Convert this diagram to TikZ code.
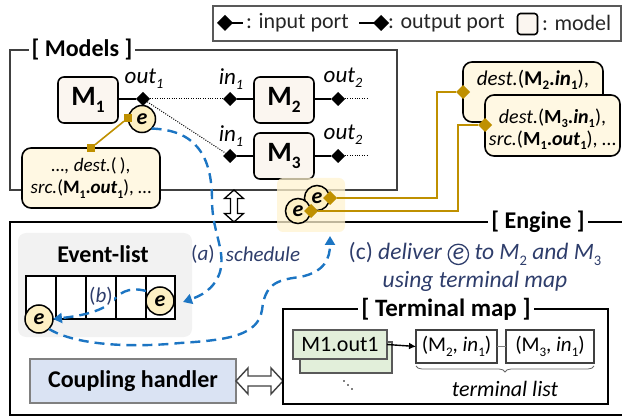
\documentclass[tikz,border=0pt]{standalone}
\usepackage{fontspec}
\setmainfont{Carlito}
\usetikzlibrary{shapes.geometric,decorations.pathreplacing,arrows.meta,calc}
\definecolor{modelfill}{HTML}{FBF6F0}
\definecolor{eyel}{HTML}{FDF0C4}
\definecolor{infofill}{HTML}{FFF8E3}
\definecolor{gold}{HTML}{BF9000}
\definecolor{hl}{HTML}{FFF3D0}
\definecolor{dblue}{HTML}{1C75C3}
\definecolor{navy}{HTML}{2E3D6B}
\definecolor{evbg}{HTML}{F2F2F2}
\definecolor{chfill}{HTML}{DAE3F3}
\definecolor{chdraw}{HTML}{808080}
\definecolor{tmfill}{HTML}{E2EFDA}
\definecolor{legd}{HTML}{595959}
\definecolor{frm}{HTML}{404040}
\newcommand\fsz[1]{\fontsize{#1}{#1}\selectfont}
\newcommand\sbs[1]{\raisebox{-0.22em}{\scalebox{0.62}{#1}}}
\begin{document}
\begin{tikzpicture}[x=1pt,y=-1pt,
  every node/.style={inner sep=0pt, outer sep=0pt},
  model/.style={draw, line width=1.6pt, rounded corners=6pt, fill=modelfill, minimum width=60pt, minimum height=46pt, font=\bfseries\fsz{28}},
  port/.style={diamond, fill=black, minimum size=14pt, inner sep=0pt},
  gport/.style={diamond, fill=gold, minimum size=14pt, inner sep=0pt},
  gsq/.style={rectangle, fill=gold, minimum size=8pt, inner sep=0pt},
  plbl/.style={font=\itshape\fsz{23}},
  ecirc/.style={circle, draw, line width=1.5pt, fill=eyel, inner sep=0pt, minimum size=27pt, font=\bfseries\itshape\fsz{22}},
  frlbl/.style={fill=white, inner sep=3pt, font=\bfseries\fsz{24}},
  infobox/.style={draw, line width=1.6pt, rounded corners=9pt, fill=infofill},
  itxt/.style={font=\fsz{19}, align=center},
  bdash/.style={draw=dblue, line width=2.4pt, dash pattern=on 10pt off 6pt, -{Triangle[length=9pt,width=10pt]}},
  goldln/.style={draw=gold, line width=1.6pt},
  cell/.style={draw, line width=1.3pt, fill=white, minimum width=30pt, minimum height=43pt},
  navytxt/.style={text=navy, font=\fsz{21}, align=center},
  tbox/.style={draw=frm, line width=1.5pt, fill=white, minimum height=33pt, font=\fsz{21}},
  gbox/.style={draw=legd, line width=1.5pt, fill=tmfill},
]
\useasboundingbox (0,0) rectangle (622,417);

% legend
\node[draw=legd, line width=1.8pt, minimum width=408pt, minimum height=35pt] (leg) at (417,23.5) {};
\node[port, minimum size=16pt] (lgd1) at (225,23) {};
\coordinate (lgl1) at (243,23);
\draw[line width=1.6pt] (lgd1.center) -- (lgl1);
\node[anchor=west, font=\fsz{22}, text=black!85] (lgt1) at (246,23) {: input port};
\coordinate (lgl2) at (359,23);
\node[port, minimum size=16pt] (lgd2) at (381,23) {};
\draw[line width=1.6pt] (lgl2) -- (lgd2.center);
\node[anchor=west, font=\fsz{22}, text=black!85] (lgt2) at (388,23) {: output port};
\node[draw, line width=1.6pt, rounded corners=3pt, fill=modelfill, minimum width=20pt, minimum height=21pt] (lgm) at (527.5,24) {};
\node[anchor=west, font=\fsz{22}, text=black!85] (lgt3) at (542,23) {: model};

% Models frame
\draw[draw=frm, line width=1.6pt] (10,50) rectangle (397,190);
\node[frlbl] (mlbl) at (82,50) {[ Models ]};

% Engine frame
\draw[line width=1.6pt] (630,222) -- (10,222) -- (10,415) -- (630,415);
\node[frlbl] (elbl) at (538,222) {[ Engine ]};

% models
\node[model] (m1) at (88,100) {M\sbs{1}};
\node[model] (m2) at (284,100) {M\sbs{2}};
\node[model] (m3) at (284,156) {M\sbs{3}};
\node[port] (o1) at (143,99) {};
\node[port] (i2) at (230,99) {};
\node[port] (i3) at (230,156) {};
\node[port] (o2) at (338,99) {};
\node[port] (o3) at (338,156) {};
\coordinate (o2e) at (367,99);
\coordinate (o3e) at (367,156);
\draw[line width=1.5pt] (m1.east |- o1) -- (o1);
\draw[line width=1.5pt] (i2) -- (m2.west |- i2);
\draw[line width=1.5pt] (i3) -- (m3.west |- i3);
\draw[line width=1.5pt] (m2.east |- o2) -- (o2);
\draw[line width=1.5pt] (m3.east |- o3) -- (o3);
\draw[line width=1pt, dash pattern=on 1pt off 1.4pt] (o1) -- (i2);
\draw[line width=1pt, dash pattern=on 1pt off 1.4pt] (o1) -- (i3);
\draw[line width=1pt, dash pattern=on 1pt off 1.4pt] (o2) -- (o2e);
\draw[line width=1pt, dash pattern=on 1pt off 1.4pt] (o3) -- (o3e);
\node[plbl] (lo1) at (144,79) {out\sbs{1}};
\node[plbl] (li2) at (231,79) {in\sbs{1}};
\node[plbl] (lo2) at (343,78) {out\sbs{2}};
\node[plbl] (li3) at (231,136) {in\sbs{1}};
\node[plbl] (lo3) at (343,135) {out\sbs{2}};

% info box near M1
\node[infobox, minimum width=138pt, minimum height=60pt] (info) at (91,178) {};
\node[itxt] (infot) at (91,178) {\textit{\dots, dest.}(\,),\\[3pt]\textit{src.}(\textbf{M\sbs{1}.\textit{out}\sbs{1}}), \dots};
\node[ecirc] (e1) at (142,119) {e};
\node[gsq] (sq1) at (128,118) {};
\node[gsq] (sq2) at (91,148) {};
\draw[goldln] (sq1) -- (sq2);

% highlight with two events
\fill[hl, fill opacity=0.75, rounded corners=6pt] (277,178) rectangle (345,232);
\node[ecirc, minimum size=25pt] (ea) at (317,198) {e};
\node[ecirc, minimum size=25pt] (eb) at (298,211) {e};
\node[gport] (ga) at (330,198) {};
\node[gport] (gb) at (311,211) {};

% right boxes
\node[infobox, minimum width=140pt, minimum height=60pt] (rb1) at (533,92) {};
\node[itxt, font=\fsz{21}] (rb1t) at (533,80) {\textit{dest.}(\textbf{M\sbs{2}.\textit{in}\sbs{1}}),};
\node[infobox, minimum width=135pt, minimum height=61pt] (rb2) at (552.5,125.5) {};
\node[itxt, font=\fsz{20}] (rb2t) at (552.5,129) {\textit{dest.}(\textbf{M\sbs{3}.\textit{in}\sbs{1}}),\\[2pt]\textit{src.}(\textbf{M\sbs{1}.\textit{out}\sbs{1}}), \dots};
\node[gport] (gd1) at (463,92) {};
\node[gport] (gd2) at (485,125) {};
\draw[goldln] (ga) -- (437,198) -- (437,92) -- (gd1);
\draw[goldln] (gb) -- (458,211) -- (458,125) -- (gd2);

% vertical double arrow
\draw[line width=1.3pt, fill=white] (234,190) -- (243.5,198.5) -- (237.5,198.5) -- (237.5,213.5) -- (243.5,213.5) -- (234,222) -- (224.5,213.5) -- (230.5,213.5) -- (230.5,198.5) -- (224.5,198.5) -- cycle;

% event list
\fill[evbg, rounded corners=8pt] (18,233) rectangle (192,337);
\node[font=\bfseries\fsz{24}] (evl) at (103,254) {Event-list};
\node[cell] (c1) at (41,297.5) {};
\node[cell] (c2) at (71,297.5) {};
\node[cell] (c3) at (101,297.5) {};
\node[cell] (c4) at (131,297.5) {};
\node[cell, minimum width=29pt] (c5) at (160.5,297.5) {};
\node[ecirc, minimum size=28pt] (e5) at (160,301) {e};
\node[ecirc, minimum size=28pt] (e6) at (39,319) {e};

% coupling handler
\node[draw=chdraw, line width=2pt, fill=chfill, minimum width=206pt, minimum height=44pt, font=\bfseries\fsz{24}] (ch) at (133,381) {Coupling handler};
\draw[draw=frm, line width=1.4pt, fill=white] (236,381) -- (248,368) -- (248,376) -- (271,376) -- (271,368) -- (283,381) -- (271,394) -- (271,386) -- (248,386) -- (248,394) -- cycle;

% terminal map
\draw[line width=1.5pt] (283,309) rectangle (608,404);
\node[frlbl, font=\bfseries\fsz{25}] (tlbl) at (446,309) {[ Terminal map ]};
\node[gbox, minimum width=92pt, minimum height=31pt] (gb2) at (346,357.5) {};
\node[gbox, minimum width=94pt, minimum height=29pt, font=\fsz{22}] (mo) at (340,344.5) {M1.out1};
\node[tbox, minimum width=81pt] (t1) at (456.5,346.5) {(M\sbs{2}, \textit{in}\sbs{1})};
\node[tbox, minimum width=88pt] (t2) at (550,346.5) {(M\sbs{3}, \textit{in}\sbs{1})};
\draw[draw=gray, line width=1.5pt] (t1.east) -- (t2.west);
\draw[line width=1.4pt, -{Latex[length=7pt,width=7pt]}] (mo.east) -- (t1.west);
\draw[draw=gray!80!black, line width=0.8pt, decorate, decoration={brace, mirror, amplitude=6pt}] (416,366) -- (594,366);
\node[font=\itshape\fsz{22}] (tl) at (505,389) {terminal list};
\node[circle, fill=black, minimum size=1.8pt] (d1) at (344,381) {};
\node[circle, fill=black, minimum size=1.8pt] (d2) at (348,385) {};
\node[circle, fill=black, minimum size=1.8pt] (d3) at (352,389) {};

% labels
\node[navytxt] (la1) at (203,254) {(\textit{a})};
\node[navytxt, font=\itshape\fsz{21}] (la2) at (263,254) {schedule};
\node[navytxt, font=\fsz{23.5}] (lc) at (475,254) {(c) \textit{deliver} \tikz[baseline=(ce.base)]\node[circle, draw=navy, line width=1.3pt, inner sep=1.5pt] (ce) {\textit{e}}; \textit{to M}\sbs{2} \textit{and M}\sbs{3}};
\node[navytxt, font=\itshape\fsz{23.5}] (lc2) at (475,281) {using terminal map};

% blue dashed paths
\draw[bdash] (e1.south east) .. controls (195,130) and (212,155) .. (212,200) .. controls (212,232) and (226,250) .. (220,272) .. controls (214,290) and (200,296) .. (183,302);
\draw[bdash] (146,291) .. controls (128,286) and (118,294) .. (112,302) .. controls (100,312) and (80,316) .. (e6.east);
\draw[bdash] (e6.south east) .. controls (75,345) and (130,348) .. (180,343) .. controls (230,340) and (258,335) .. (262,310) .. controls (265,285) and (275,280) .. (300,277) .. controls (325,272) and (330,258) .. (330,236);
\node[navytxt, fill=white, inner sep=1pt] (lb) at (101,296) {(\textit{b})};
\end{tikzpicture}
\end{document}
